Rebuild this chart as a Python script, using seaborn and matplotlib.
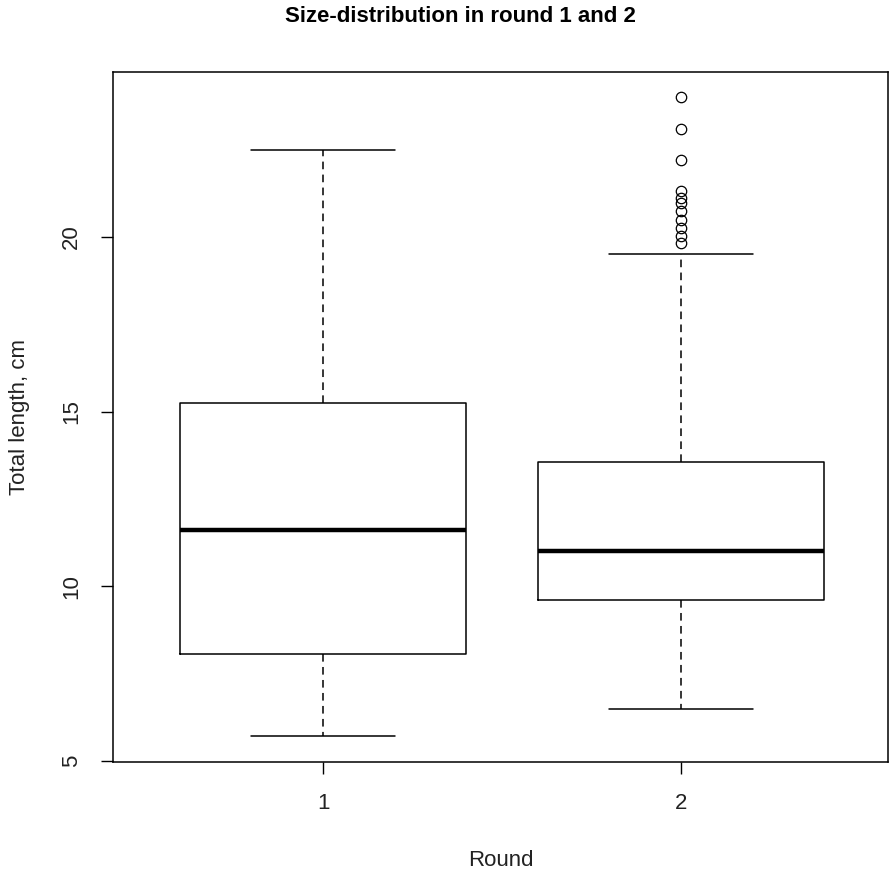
import matplotlib
matplotlib.use("Agg")
import matplotlib.pyplot as plt
import seaborn as sns

# ── Data (five-number summary per round) ─────────────────────────────────────
ROUNDS = ["1", "2"]
WHISK_LO = [5.7, 6.5]
Q1 = [8.05, 9.6]
MEDIAN = [11.6, 11.0]
Q3 = [15.25, 13.55]
WHISK_HI = [22.5, 19.5]
OUTLIERS_R1 = []
OUTLIERS_R2 = [19.83, 20.03, 20.26, 20.49, 20.74, 20.97, 21.1, 21.31, 22.2, 23.1, 24.0]
OUTLIERS = [OUTLIERS_R1, OUTLIERS_R2]
Y_TICKS = [5, 10, 15, 20]

# ── Style ────────────────────────────────────────────────────────────────────
sns.set_theme(style="white")
plt.rcParams["font.family"] = ["Liberation Sans", "DejaVu Sans"]
FS = 16

stats = []
for i, lab in enumerate(ROUNDS):
    stats.append({
        "label": lab,
        "whislo": WHISK_LO[i],
        "q1": Q1[i],
        "med": MEDIAN[i],
        "q3": Q3[i],
        "whishi": WHISK_HI[i],
        "fliers": OUTLIERS[i],
    })

W, H = 890, 873
fig = plt.figure(figsize=(W / 100, H / 100), dpi=100)
fig.patch.set_facecolor("white")
ax = fig.add_axes([113 / W, (H - 762) / H, 775 / W, 690 / H])
ax.set_facecolor("white")

positions = list(range(1, len(ROUNDS) + 1))
ax.bxp(stats, positions=positions, widths=0.8, capwidths=0.4,
       showfliers=True, manage_ticks=False,
       boxprops=dict(color="black", linewidth=1.1),
       medianprops=dict(color="black", linewidth=3.2, solid_capstyle="butt"),
       whiskerprops=dict(color="black", linewidth=1.1, linestyle=(0, (5, 3.5))),
       capprops=dict(color="black", linewidth=1.1),
       flierprops=dict(marker="o", markerfacecolor="none", markeredgecolor="black",
                       markersize=7.5, markeredgewidth=0.9, linestyle="none"))

ax.set_xlim(0.4134, 2.578)
ax.set_ylim(4.97, 24.72)
ax.set_xticks(positions)
ax.set_xticklabels(ROUNDS, fontsize=FS, color="#222222")
ax.set_yticks(Y_TICKS)
ax.set_yticklabels([str(t) for t in Y_TICKS], fontsize=FS, color="#222222",
                   rotation=90, va="center")
ax.tick_params(axis="both", which="major", bottom=True, left=True,
               direction="out", length=8.6, width=1, color="black")
ax.tick_params(axis="y", pad=13.5)
ax.tick_params(axis="x", pad=14)

for sp in ax.spines.values():
    sp.set_visible(True)
    sp.set_color("black")
    sp.set_linewidth(1.1)

ax.set_xlabel("Round", fontsize=FS, color="#222222")
ax.xaxis.set_label_coords(0.5, -(860 - 762) / 690)
ax.xaxis.label.set_va("center")
ax.set_ylabel("Total length, cm", fontsize=FS, color="#222222")
ax.yaxis.set_label_coords(-(113 - 20) / 775, 0.5)
ax.yaxis.label.set_va("center")

fig.text(460 / W, 1 - 17 / H, "Size-distribution in round 1 and 2",
         ha="center", va="center", fontsize=FS, fontweight="bold", color="black")

plt.savefig("out.png", dpi=100, facecolor="white")
